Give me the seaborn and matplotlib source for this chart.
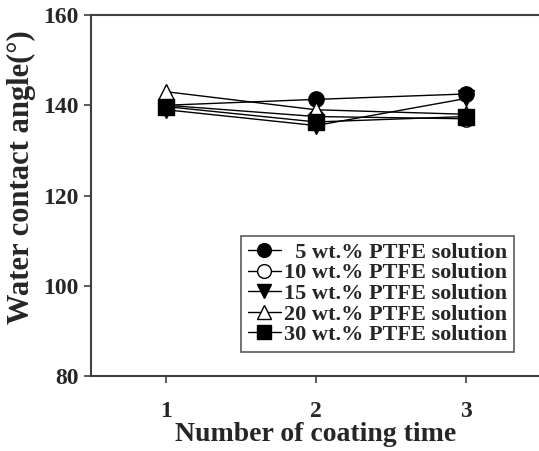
import matplotlib
matplotlib.use("Agg")
import matplotlib.pyplot as plt
import seaborn as sns
import pandas as pd

coating_times = [1, 2, 3]
labels = ["  5 wt.% PTFE solution", "10 wt.% PTFE solution", "15 wt.% PTFE solution",
          "20 wt.% PTFE solution", "30 wt.% PTFE solution"]
wca_5 = [140.0, 141.3, 142.5]
wca_10 = [140.0, 137.5, 137.0]
wca_15 = [139.0, 135.5, 141.5]
wca_20 = [143.0, 139.0, 138.0]
wca_30 = [139.7, 136.3, 137.5]
series = [wca_5, wca_10, wca_15, wca_20, wca_30]

sns.set_theme(style="white")
plt.rcParams['font.family'] = ['Liberation Serif', 'DejaVu Serif']
plt.rcParams['font.weight'] = 'bold'

fig = plt.figure(figsize=(5.39, 4.51), dpi=100)
ax = fig.add_axes([91/539, 1 - 376/451, 450/539, (376 - 15)/451])

styles = [
    dict(marker="o", markerfacecolor="black"),
    dict(marker="o", markerfacecolor="white"),
    dict(marker="v", markerfacecolor="black"),
    dict(marker="^", markerfacecolor="white"),
    dict(marker="s", markerfacecolor="black"),
]
for lab, vals, st in zip(labels, series, styles):
    df = pd.DataFrame({"x": coating_times, "y": vals})
    sns.lineplot(data=df, x="x", y="y", ax=ax, color="black", linewidth=1.0,
                 markersize=11, markeredgecolor="black", markeredgewidth=1.0,
                 label=lab, **st)

ax.set_xlim(0.5, 3.5)
ax.set_ylim(80, 160)
ax.set_xticks([1, 2, 3])
ax.set_yticks([80, 100, 120, 140, 160])
ax.tick_params(axis="both", labelsize=17, direction="out", length=5, width=1.2,
               color="#404040", left=True, bottom=True)
ax.tick_params(axis="x", pad=13)
ax.tick_params(axis="y", pad=4)
for t in ax.get_xticklabels() + ax.get_yticklabels():
    t.set_fontweight("bold")
for s in ax.spines.values():
    s.set_color("#404040")
    s.set_linewidth(1.5)
ax.spines["right"].set_visible(False)

ax.set_xlabel("Number of coating time", fontsize=20, fontweight="bold", labelpad=0)
ax.set_ylabel("Water contact angle(°)", fontsize=22, fontweight="bold")
ax.yaxis.set_label_coords(-0.123, 0.55)

leg = ax.legend(loc="lower right", bbox_to_anchor=(0.94, 0.067), frameon=True,
                fancybox=False, edgecolor="#303030", fontsize=16,
                handlelength=1.5, handletextpad=0.15, labelspacing=0.0,
                borderpad=0.3, borderaxespad=0, markerscale=0.9)
leg.get_frame().set_linewidth(1.2)
for t in leg.get_texts():
    t.set_fontweight("bold")

fig.savefig("out.png", dpi=100)
